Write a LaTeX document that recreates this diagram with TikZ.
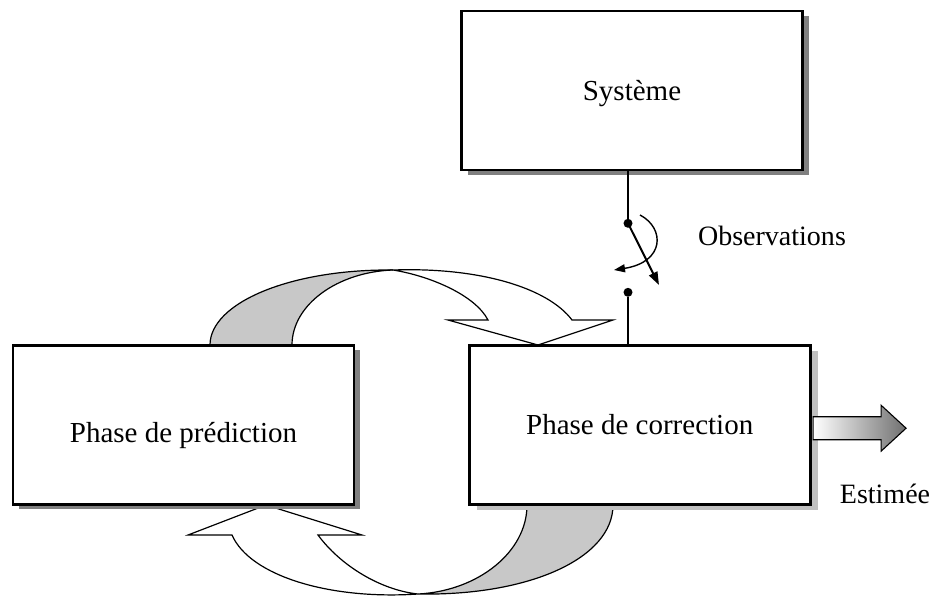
\documentclass[tikz,border=0pt]{standalone}
\usepackage{fontspec}
\setmainfont{Liberation Serif}
\usetikzlibrary{calc,shadows,arrows.meta}
\definecolor{ombrefonce}{HTML}{808080}
\definecolor{ombreclaire}{HTML}{C0C0C0}
\definecolor{grisbande}{HTML}{C8C8C8}
\definecolor{grissortie}{HTML}{707070}

\tikzset{
  boite/.style={draw, fill=white, line width=2.7pt, minimum width=341pt,
                minimum height=159pt, inner sep=0pt, font=\fontsize{29}{33}\selectfont},
  ombre/.style={drop shadow={shadow xshift=6pt, shadow yshift=-5pt, fill=ombrefonce, opacity=1}},
  ombrelegere/.style={drop shadow={shadow xshift=8pt, shadow yshift=-6pt, fill=ombreclaire, opacity=1}},
  contact/.style={circle, fill=black, inner sep=0pt, minimum size=9pt},
  bande/.style={draw=black, line width=1.2pt, line join=miter},
  legende/.style={inner sep=0pt, font=\fontsize{28}{32}\selectfont},
}

\begin{document}
\begin{tikzpicture}[x=1pt,y=-1pt]

  % ---- Cadre (memes proportions que la figure d'origine) -------------------
  \useasboundingbox (0,0) rectangle (936,597);

  % ---- Fleches courbes, dessinees d'abord pour passer sous les boites -------
  % Haut : de la prediction vers la correction
  \filldraw[bande, fill=grisbande] (210,345) .. controls (210,303) and (290,269) .. (393,270)
    .. controls (337,272) and (292,305) .. (292,345) -- cycle;
  \filldraw[bande, fill=white] (393,270) .. controls (480,267) and (548,288) .. (572,320)
    -- (613,320) -- (538,345) -- (448,320) -- (488,320)
    .. controls (475,295) and (430,276) .. (393,270) -- cycle;

  % Bas : de la correction vers la prediction
  \filldraw[bande, fill=grisbande] (613,505) .. controls (613,558) and (530,596) .. (418,594)
    .. controls (478,591) and (527,552) .. (527,505) -- cycle;
  \filldraw[bande, fill=white] (418,594) .. controls (330,600) and (250,576) .. (232,535)
    -- (188,535) -- (266,505) -- (362,535) -- (318,535)
    .. controls (340,565) and (380,590) .. (418,594) -- cycle;

  % ---- Les trois blocs -----------------------------------------------------
  \node[boite, ombre, text height=26pt] (systeme) at (632,90.5) {Système};
  \node[boite, ombre, text height=42pt] (prediction) at (183.5,424.7) {Phase de prédiction};
  \node[boite, ombrelegere] (correction) at (639.7,424.7) {Phase de correction};

  % ---- Interrupteur des observations ---------------------------------------
  \node[contact] (contacthaut) at (628,223.3) {};
  \node[contact] (contactbas) at (628,292.3) {};
  \coordinate (lame) at (659,285);
  \draw[line width=2pt] (systeme.south -| contacthaut) -- (contacthaut);
  \draw[line width=2pt] (contactbas) -- (contactbas |- correction.north);
  \draw[line width=2pt, -{Triangle[length=13pt, width=9pt]}] (contacthaut.center) -- (lame);

  % petite fleche de fermeture
  \coordinate (rotdebut) at (640,215);
  \coordinate (rotfin) at (614,270);
  \draw[line width=1.4pt, -{Triangle[length=11pt, width=8pt]}]
    (rotdebut) .. controls (665,228) and (665,262) .. (rotfin);

  \node[legende, anchor=base] (observations) at (772,245) {Observations};

  % ---- Sortie : l'estimee ----------------------------------------------------
  \coordinate (sortie) at ($(correction.east)+(1.5,3.5)$);
  \draw[line width=1.1pt, left color=white, right color=grissortie]
    (sortie) ++(0,-11.5) -- ++(68,0) -- ++(0,-11.5) -- ++(25,23)
    -- ++(-25,23) -- ++(0,-11.5) -- ++(-68,0) -- cycle;

  \node[legende, anchor=base] (estimee) at (885,503) {Estimée};

\end{tikzpicture}
\end{document}
